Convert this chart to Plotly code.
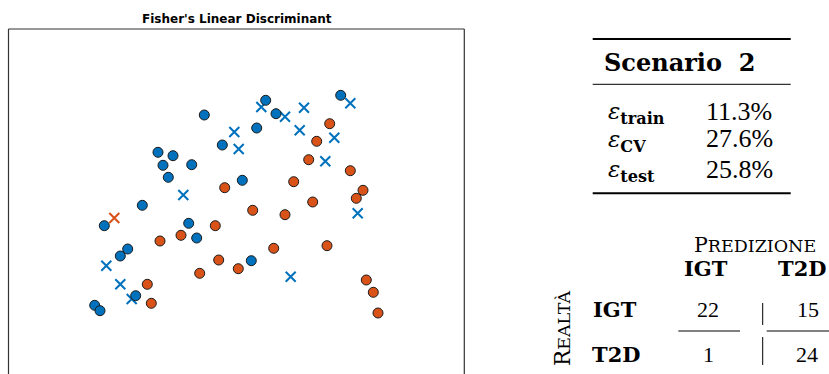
import plotly.graph_objects as go

W, H = 829, 374

# ---------------- data (discriminant-space coordinates) ----------------
# correctly classified IGT (blue circles)
igt_ok_x = [204.3, 265.7, 276.0, 340.7, 256.7, 222.3, 158.0, 173.0, 163.0, 191.7, 168.3,
            242.3, 142.3, 104.3, 188.7, 196.7, 127.7, 120.3, 251.3, 135.7, 94.7, 100.0]
igt_ok_y = [259.0, 273.7, 260.3, 278.7, 246.0, 229.0, 221.7, 218.3, 208.7, 209.3, 196.7,
            193.7, 168.7, 148.3, 150.7, 136.0, 125.0, 118.0, 113.3, 78.3, 68.7, 63.3]
# correctly classified T2D (orange circles)
t2d_ok_x = [329.7, 316.7, 308.7, 350.3, 293.7, 224.7, 363.0, 356.3, 312.7, 252.7, 285.0, 215.3,
            181.0, 160.0, 327.0, 273.7, 218.7, 238.3, 199.7, 147.3, 151.3, 366.3, 373.3, 378.0]
t2d_ok_y = [250.3, 232.7, 214.3, 203.3, 192.3, 186.3, 183.7, 175.7, 172.0, 163.7, 159.3, 148.3,
            138.7, 133.0, 128.3, 125.7, 114.0, 105.3, 100.7, 89.7, 70.7, 94.0, 81.7, 61.0]
# IGT misclassified as T2D (blue crosses)
igt_err_x = [261.3, 304.0, 285.0, 350.3, 234.3, 299.7, 334.3, 238.7, 325.3, 183.3, 357.7,
             106.3, 120.3, 131.7, 290.7]
igt_err_y = [267.0, 266.3, 257.3, 270.7, 242.0, 243.7, 236.3, 225.0, 212.7, 179.0, 160.7,
             108.3, 89.7, 75.0, 97.3]
# T2D misclassified as IGT (orange cross)
t2d_err_x = [114.3]
t2d_err_y = [156.0]

title_text = "Fisher's Linear Discriminant"
scenario = "Scenario 2"
metric_names = ["train", "CV", "test"]
metric_values = ["11.3%", "27.6%", "25.8%"]
classes = ["IGT", "T2D"]
conf = [[22, 15], [1, 24]]

BLUE = "#0072BD"
ORANGE = "#D95319"

fig = go.Figure()


def circles(x, y, color):
    fig.add_trace(go.Scatter(x=x, y=y, mode="markers", showlegend=False,
                             marker=dict(symbol="circle", size=10, color=color,
                                         line=dict(color="#1a1a1a", width=1))))


def crosses(x, y, color):
    fig.add_trace(go.Scatter(x=x, y=y, mode="markers", showlegend=False,
                             marker=dict(symbol="x-thin-open", size=10, color=color,
                                         line=dict(color=color, width=2))))


crosses(igt_err_x, igt_err_y, BLUE)
crosses(t2d_err_x, t2d_err_y, ORANGE)
circles(igt_ok_x, igt_ok_y, BLUE)
circles(t2d_ok_x, t2d_ok_y, ORANGE)


def px(x):
    return x / W


def py(y):
    return 1 - y / H


ax_l, ax_r, ax_t = 8.5, 464.3, 29.0
fig.update_layout(
    width=W, height=H, margin=dict(l=0, r=0, t=0, b=0),
    paper_bgcolor="white", plot_bgcolor="white",
    xaxis=dict(domain=[px(ax_l), px(ax_r)], range=[ax_l, ax_r], visible=False),
    yaxis=dict(domain=[0, py(ax_t)], range=[0, H - ax_t], visible=False),
)

shapes = []
# axes box (bottom edge is outside the picture)
for (x0, y0, x1, y1) in [(ax_l, ax_t, ax_l, H), (ax_l, ax_t, ax_r, ax_t), (ax_r, ax_t, ax_r, H)]:
    shapes.append(dict(type="line", xref="paper", yref="paper", x0=px(x0), y0=py(y0),
                       x1=px(x1), y1=py(y1), line=dict(color="#333333", width=1.2)))
# table rules
for yy, lw in [(39, 2), (84.3, 1), (193.3, 2)]:
    shapes.append(dict(type="line", xref="paper", yref="paper", x0=px(592.7), x1=px(790.7),
                       y0=py(yy), y1=py(yy), line=dict(color="black", width=lw)))
# confusion matrix lines
for (x0, y0, x1, y1) in [(762.7, 303, 762.7, 325), (762.7, 337, 762.7, 365),
                         (678.3, 331, 740, 331), (766.7, 331, 829, 331)]:
    shapes.append(dict(type="line", xref="paper", yref="paper", x0=px(x0), y0=py(y0),
                       x1=px(x1), y1=py(y1), line=dict(color="black", width=1)))
fig.update_layout(shapes=shapes)

SERIF = "Liberation Serif"
BSERIF = "DejaVu Serif"
ann = []


def text(x, y, s, size, family=SERIF, xanchor="center", angle=0, color="black"):
    ann.append(dict(x=px(x), y=py(y), xref="paper", yref="paper", text=s, showarrow=False,
                    xanchor=xanchor, yanchor="middle", textangle=angle,
                    font=dict(family=family, size=size, color=color)))


text(236.5, 19, "<b>" + title_text + "</b>", 12, family="DejaVu Sans")
text(679, 62, "<b>" + scenario.replace(" ", "\u00a0\u00a0") + "</b>", 24, family=BSERIF)

rows_y = [111, 139, 169]
for name, val, yy in zip(metric_names, metric_values, rows_y):
    text(606, yy + 2, "<i>ε</i><sub><b>" + name + "</b></sub>", 23, family=BSERIF,
         xanchor="left")
    text(739, yy, val, 26)

text(755, 245, "P<span style='font-size:17.5px'>REDIZIONE</span>", 20.5, family=BSERIF)
text(705.5, 268, "<b>" + classes[0] + "</b>", 21, family=BSERIF)
text(802, 268, "<b>" + classes[1] + "</b>", 21, family=BSERIF)
text(615, 309, "<b>" + classes[0] + "</b>", 21, family=BSERIF)
text(616, 354, "<b>" + classes[1] + "</b>", 21, family=BSERIF)
text(707.5, 309, str(conf[0][0]), 22)
text(807.5, 309, str(conf[0][1]), 22)
text(708, 354, str(conf[1][0]), 22)
text(807, 354, str(conf[1][1]), 22)
text(562, 328, "R<span style='font-size:17.5px'>EALTÀ</span>", 21.5, family=BSERIF, angle=-90)

fig.update_layout(annotations=ann)
fig.write_html("out.html")
